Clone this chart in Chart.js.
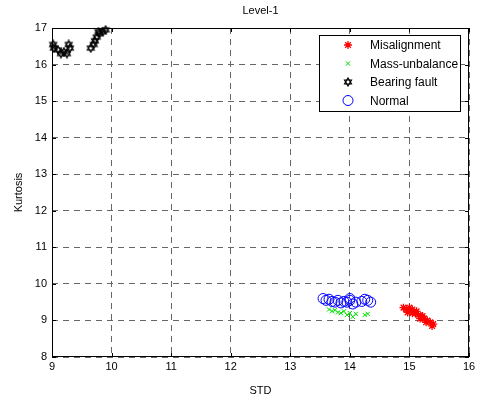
<!DOCTYPE html>
<html>
<head>
<meta charset="utf-8">
<script src="https://cdn.jsdelivr.net/npm/chart.js@4.4.1/dist/chart.umd.min.js"></script>
<style>
	html, body { margin: 0; padding: 0; background: #fff; }
	#wrap { width: 482px; height: 398px; }
</style>
</head>
<body>
<div id="wrap"><canvas id="chart" width="482" height="398"></canvas></div>
<script>
// data (STD, Kurtosis)
const misalignX = [14.9, 14.95, 15.0, 15.05, 15.1, 15.15, 15.2, 15.25, 15.3, 15.35, 15.4, 15.05, 15.12, 15.28, 15.38, 15.0, 15.18, 14.97, 15.22];
const misalignY = [9.35, 9.3, 9.25, 9.3, 9.2, 9.15, 9.1, 9.05, 9.0, 8.95, 8.9, 9.2, 9.25, 8.95, 8.85, 9.35, 9.05, 9.22, 9.12];
const unbalX = [13.65, 13.7, 13.8, 13.85, 13.9, 13.95, 14.0, 14.05, 14.1, 14.25, 14.3, 13.75];
const unbalY = [9.3, 9.25, 9.22, 9.2, 9.25, 9.15, 9.2, 9.1, 9.18, 9.15, 9.18, 9.28];
const bearingX = [9.02, 9.03, 9.1, 9.15, 9.2, 9.25, 9.3, 9.28, 9.65, 9.7, 9.72, 9.75, 9.8, 9.85, 9.9, 9.78];
const bearingY = [16.55, 16.45, 16.4, 16.3, 16.35, 16.3, 16.45, 16.55, 16.45, 16.55, 16.65, 16.75, 16.85, 16.9, 16.95, 16.9];
const normalX = [13.55, 13.6, 13.65, 13.7, 13.75, 13.8, 13.85, 13.9, 13.95, 14.0, 14.05, 14.1, 14.2, 14.25, 14.3, 14.35, 14.0];
const normalY = [9.6, 9.55, 9.58, 9.52, 9.5, 9.55, 9.48, 9.52, 9.5, 9.55, 9.45, 9.5, 9.52, 9.58, 9.55, 9.5, 9.6];

const xTicks = [9, 10, 11, 12, 13, 14, 15, 16];
const yTicks = [8, 9, 10, 11, 12, 13, 14, 15, 16, 17];

function pts(xs, ys) {
	return xs.map((x, i) => ({ x: x, y: ys[i] }));
}

// six pointed star marker for bearing fault
function hexagram(size) {
	const c = document.createElement("canvas");
	c.width = size;
	c.height = size;
	const g = c.getContext("2d");
	const r = size / 2 - 1;
	const m = size / 2;
	g.strokeStyle = "#000";
	g.lineWidth = 1.2;
	for (let k = 0; k < 2; k++) {
		g.beginPath();
		for (let i = 0; i < 3; i++) {
			const a = -Math.PI / 2 + k * Math.PI + (i * 2 * Math.PI) / 3;
			const px = m + r * Math.cos(a);
			const py = m + r * Math.sin(a);
			if (i === 0) g.moveTo(px, py);
			else g.lineTo(px, py);
		}
		g.closePath();
		g.stroke();
	}
	return c;
}
const starImg = hexagram(10);

const FONT = "Arial, 'Liberation Sans', sans-serif";

// frame, inward ticks, title, legend
const matlabBox = {
	id: "matlabBox",
	afterDraw(chart) {
		const ctx = chart.ctx;
		const a = chart.chartArea;
		const xs = chart.scales.x;
		const ys = chart.scales.y;
		ctx.save();
		ctx.strokeStyle = "#000";
		ctx.lineWidth = 1;
		ctx.strokeRect(a.left + 0.5, a.top + 0.5, a.right - a.left - 1, a.bottom - a.top - 1);
		ctx.beginPath();
		xTicks.forEach((t) => {
			const px = Math.round(xs.getPixelForValue(t)) + 0.5;
			ctx.moveTo(px, a.bottom);
			ctx.lineTo(px, a.bottom - 4);
			ctx.moveTo(px, a.top);
			ctx.lineTo(px, a.top + 4);
		});
		yTicks.forEach((t) => {
			const py = Math.round(ys.getPixelForValue(t)) + 0.5;
			ctx.moveTo(a.left, py);
			ctx.lineTo(a.left + 4, py);
			ctx.moveTo(a.right, py);
			ctx.lineTo(a.right - 4, py);
		});
		ctx.stroke();

		// title
		ctx.fillStyle = "#000";
		ctx.font = "11px " + FONT;
		ctx.textAlign = "center";
		ctx.textBaseline = "middle";
		ctx.fillText("Level-1", (a.left + a.right) / 2, 11);

		// legend
		const lx = 319, ly = 35, lw = 141, lh = 76;
		ctx.fillStyle = "#fff";
		ctx.fillRect(lx, ly, lw, lh);
		ctx.strokeStyle = "#000";
		ctx.strokeRect(lx + 0.5, ly + 0.5, lw, lh);
		ctx.font = "12px " + FONT;
		ctx.textAlign = "left";
		chart.data.datasets.forEach((ds, i) => {
			const cy = ly + 10 + i * 18.5;
			const cx = 348;
			if (ds.pointStyle instanceof HTMLCanvasElement) {
				ctx.drawImage(ds.pointStyle, cx - 5, cy - 5);
			} else {
				ctx.strokeStyle = ds.borderColor;
				ctx.fillStyle = ds.backgroundColor;
				ctx.lineWidth = ds.borderWidth;
				Chart.helpers.drawPoint(ctx, {
					pointStyle: ds.pointStyle,
					radius: ds.pointRadius,
					borderWidth: ds.borderWidth
				}, cx, cy);
			}
			ctx.fillStyle = "#000";
			ctx.fillText(ds.label, 370, cy + 1);
		});
		ctx.restore();
	}
};

const chart = new Chart(document.getElementById("chart"), {
	type: "scatter",
	data: {
		datasets: [
			{
				label: "Misalignment",
				data: pts(misalignX, misalignY),
				pointStyle: "star",
				pointRadius: 4,
				borderColor: "#ff0000",
				backgroundColor: "#ff0000",
				borderWidth: 1.3
			},
			{
				label: "Mass-unbalance",
				data: pts(unbalX, unbalY),
				pointStyle: "crossRot",
				pointRadius: 3,
				borderColor: "#00dd00",
				backgroundColor: "#00dd00",
				borderWidth: 1
			},
			{
				label: "Bearing fault",
				data: pts(bearingX, bearingY),
				pointStyle: starImg,
				pointRadius: 5,
				borderColor: "#000",
				backgroundColor: "#000",
				borderWidth: 1
			},
			{
				label: "Normal",
				data: pts(normalX, normalY),
				pointStyle: "circle",
				pointRadius: 5,
				borderColor: "#0000ff",
				backgroundColor: "rgba(0,0,0,0)",
				borderWidth: 1
			}
		]
	},
	options: {
		responsive: false,
		animation: false,
		clip: false,
		layout: { padding: { top: 28, right: 13, left: 0, bottom: 0 } },
		plugins: {
			legend: { display: false },
			title: { display: false },
			tooltip: { enabled: false }
		},
		scales: {
			x: {
				type: "linear",
				min: 9,
				max: 16,
				afterFit(scale) { scale.height = 41; },
				afterBuildTicks(scale) { scale.ticks = xTicks.map((v) => ({ value: v })); },
				ticks: { color: "#000", font: { size: 11, family: FONT }, padding: 3, maxRotation: 0 },
				grid: { color: "#666", drawTicks: false, lineWidth: 1 },
				border: { display: false, dash: [6, 5] },
				title: { display: true, text: "STD", color: "#000", font: { size: 11, family: FONT }, padding: { top: 0, bottom: 0 } }
			},
			y: {
				type: "linear",
				min: 8,
				max: 17,
				afterFit(scale) { scale.width = 52; },
				afterBuildTicks(scale) { scale.ticks = yTicks.map((v) => ({ value: v })); },
				ticks: { color: "#000", font: { size: 11, family: FONT }, padding: 5 },
				grid: { color: "#666", drawTicks: false, lineWidth: 1 },
				border: { display: false, dash: [6, 5] },
				title: { display: true, text: "Kurtosis", color: "#000", font: { size: 11, family: FONT }, padding: { top: 12, bottom: 0 } }
			}
		}
	},
	plugins: [matlabBox]
});
</script>
</body>
</html>
